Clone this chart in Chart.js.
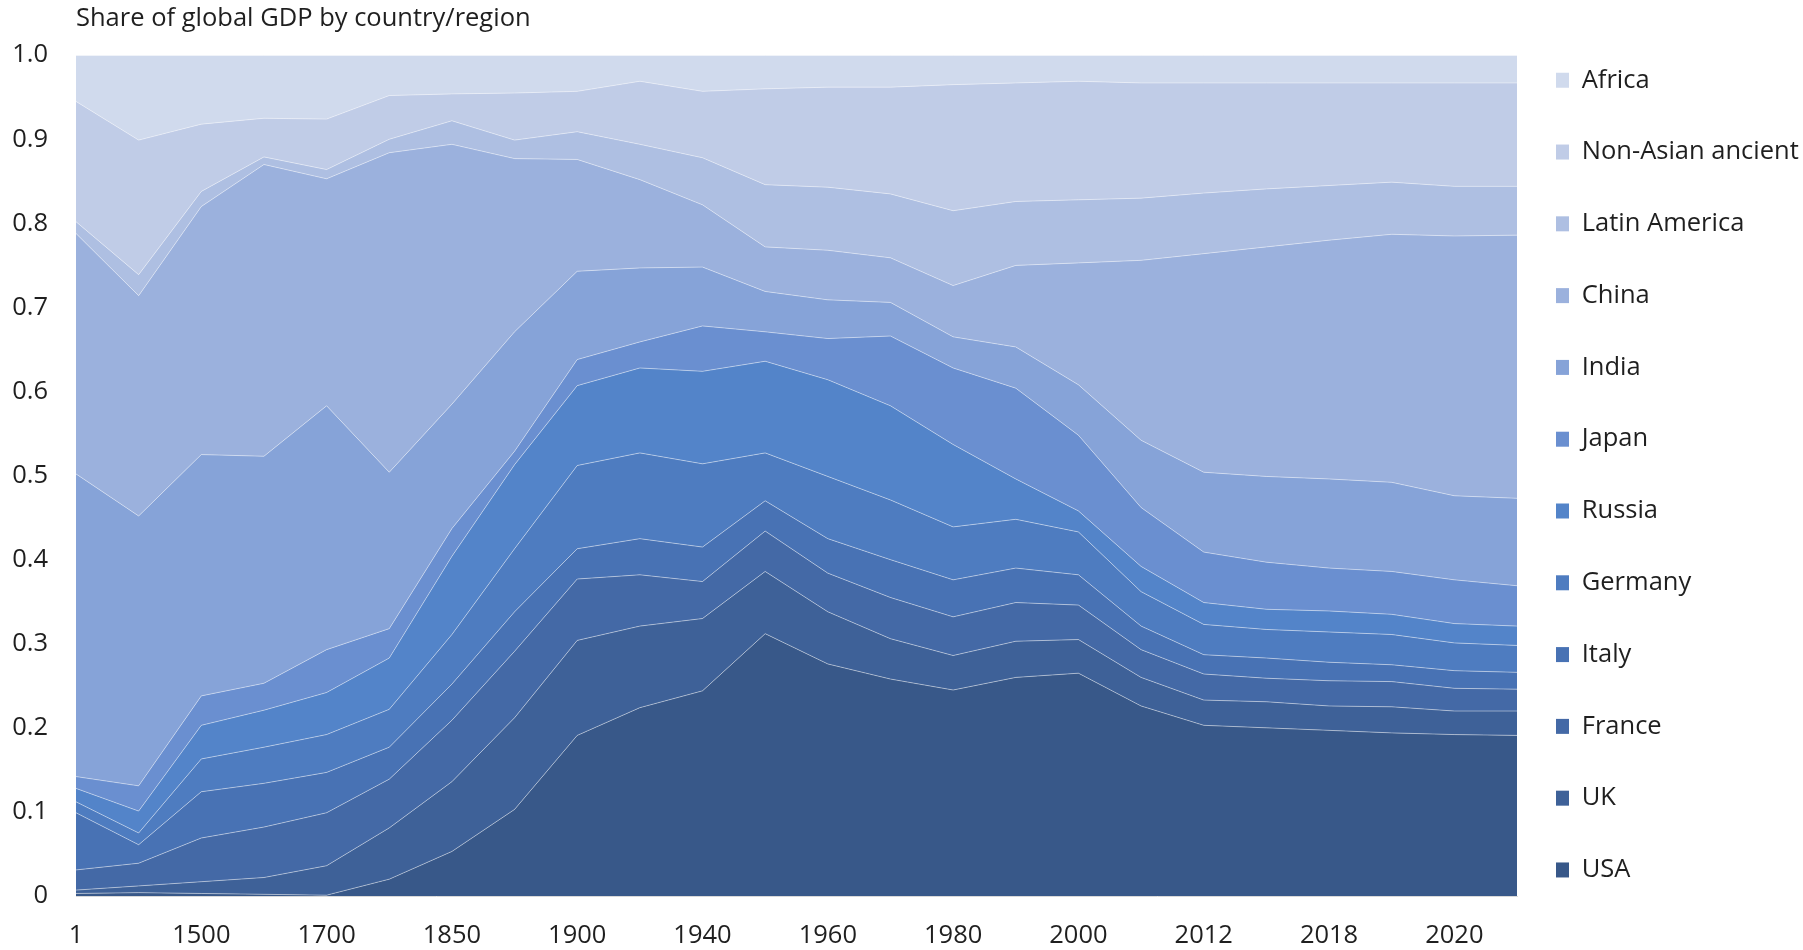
<!DOCTYPE html>
<html>
<head>
<meta charset="utf-8">
<script src="https://cdn.jsdelivr.net/npm/chart.js@4.4.1/dist/chart.umd.min.js"></script>
<style>
  html, body { margin: 0; padding: 0; background: #ffffff; }
  #wrap { width: 1803px; height: 950px; }
</style>
</head>
<body>
<div id="wrap"><canvas id="c" width="1803" height="950"></canvas></div>
<script>
const years = ['1','1000','1500','1600','1700','1820','1850','1870','1900','1913','1940','1950','1960','1970','1980','1990','2000','2010','2012','2015','2018','2019','2020','2022'];

const usa      = [.003,.004,.003,.002,.001,.020,.053,.103,.191,.224,.244,.312,.276,.258,.245,.260,.265,.226,.203,.200,.197,.194,.192,.191];
const uk       = [.004,.008,.014,.020,.035,.061,.083,.109,.113,.097,.086,.074,.062,.048,.041,.043,.040,.034,.030,.031,.029,.031,.028,.029];
const france   = [.024,.027,.052,.060,.063,.058,.073,.079,.073,.061,.044,.048,.046,.049,.046,.046,.041,.033,.031,.028,.030,.030,.027,.026];
const italy    = [.068,.022,.055,.052,.048,.038,.043,.047,.036,.043,.041,.036,.041,.045,.044,.041,.036,.028,.023,.024,.022,.020,.021,.020];
const germany  = [.013,.014,.039,.043,.045,.045,.059,.075,.099,.102,.099,.057,.074,.071,.063,.058,.051,.041,.036,.034,.036,.036,.033,.032];
const russia   = [.016,.026,.040,.044,.050,.061,.093,.100,.095,.101,.110,.109,.115,.112,.098,.048,.025,.030,.026,.024,.025,.024,.023,.023];
const japan    = [.014,.030,.035,.032,.051,.035,.033,.016,.031,.031,.054,.035,.049,.083,.091,.108,.090,.070,.060,.056,.051,.051,.052,.048];
const india    = [.360,.321,.287,.270,.290,.186,.148,.142,.105,.088,.070,.048,.046,.040,.037,.049,.060,.080,.095,.102,.106,.106,.100,.104];
const china    = [.286,.262,.295,.347,.270,.380,.309,.206,.133,.105,.074,.053,.059,.053,.061,.097,.145,.214,.260,.273,.284,.295,.309,.313];
const latAm    = [.014,.025,.018,.009,.011,.016,.028,.022,.033,.042,.056,.074,.075,.076,.089,.076,.075,.074,.072,.069,.065,.062,.059,.058];
const nonAsian = [.143,.160,.080,.046,.060,.052,.032,.056,.048,.075,.079,.114,.119,.127,.150,.141,.141,.137,.131,.126,.122,.118,.123,.123];
const africa   = [.055,.101,.082,.075,.076,.048,.046,.045,.043,.031,.043,.040,.038,.038,.035,.033,.031,.033,.033,.033,.033,.033,.033,.033];

const seriesNames = ['USA','UK','France','Italy','Germany','Russia','Japan','India','China','Latin America','Non-Asian ancient','Africa'];
const seriesValues = [usa, uk, france, italy, germany, russia, japan, india, china, latAm, nonAsian, africa];
const seriesColors = ['#385889','#3e6198','#4469a6','#4872b4','#4e7cc0','#5384c9','#6a8fd0','#86a3d8','#9bb1dd','#aebfe2','#c0cce7','#d0daed'];

const FONT = "'Open Sans', 'Noto Sans', sans-serif";
const TEXT = '#1f1f1f';
const FS = 25.5;

const datasets = seriesNames.map((name, i) => ({
  label: name,
  data: seriesValues[i],
  backgroundColor: seriesColors[i],
  borderColor: 'rgba(255,255,255,0.55)',
  borderWidth: 0.8,
  pointRadius: 0,
  pointHoverRadius: 0,
  tension: 0,
  fill: i === 0 ? 'origin' : '-1'
}));

new Chart(document.getElementById('c'), {
  type: 'line',
  data: { labels: years, datasets },
  options: {
    responsive: false,
    animation: false,
    events: [],
    layout: { padding: { left: 0, right: 0, top: 0, bottom: 0 } },
    scales: {
      x: {
        type: 'category',
        offset: false,
        grid: { display: false, drawTicks: false },
        border: { display: true, color: '#d9d9d9', width: 1 },
        afterFit: function(s) { s.height = 54; },
        ticks: {
          autoSkip: false,
          maxRotation: 0,
          minRotation: 0,
          padding: 24,
          color: TEXT,
          font: { family: FONT, size: FS },
          callback: function(v, i) { return i % 2 === 0 ? years[i] : ''; }
        }
      },
      y: {
        stacked: true,
        min: 0,
        max: 1,
        grid: { display: false, drawTicks: false },
        border: { display: false },
        afterFit: function(s) { s.width = 76; },
        ticks: {
          stepSize: 0.1,
          padding: 28,
          color: TEXT,
          font: { family: FONT, size: FS },
          callback: function(v) { return v === 0 ? '0' : v.toFixed(1); }
        }
      }
    },
    plugins: {
      tooltip: { enabled: false },
      title: {
        display: true,
        text: 'Share of global GDP by country/region',
        align: 'start',
        fullSize: false,
        color: TEXT,
        font: { family: FONT, size: FS, weight: 'normal', lineHeight: 1.2 },
        padding: { top: 3, bottom: 21.6 }
      },
      legend: {
        display: true,
        position: 'right',
        align: 'center',
        reverse: true,
        maxWidth: 286,
        title: { display: true, text: ' ', padding: 0, font: { size: 6.25, lineHeight: 1.2 } },
        labels: {
          color: TEXT,
          font: { family: FONT, size: FS, lineHeight: 1.286 },
          boxWidth: 13,
          boxHeight: 15,
          padding: 39,
          generateLabels: function(chart) {
            const items = Chart.defaults.plugins.legend.labels.generateLabels(chart);
            return items.map(it => Object.assign(it, { text: [it.text], lineWidth: 0, strokeStyle: 'rgba(0,0,0,0)' }));
          }
        }
      }
    }
  }
});
</script>
</body>
</html>
